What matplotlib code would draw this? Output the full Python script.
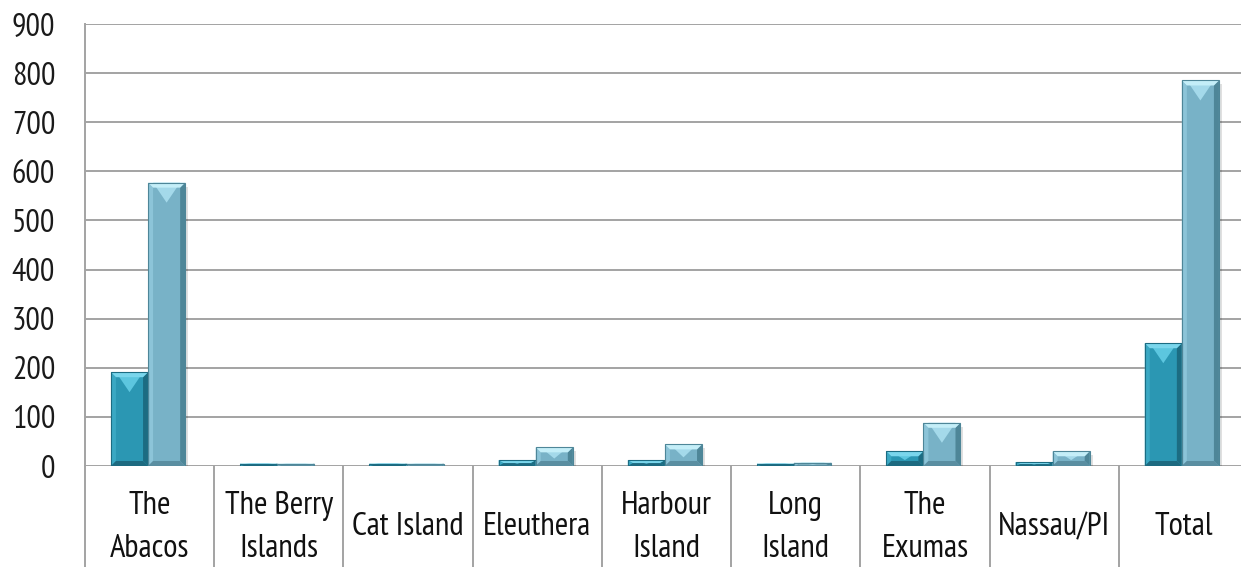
import matplotlib
matplotlib.use("Agg")
import matplotlib.pyplot as plt
from matplotlib.patches import Polygon, Rectangle
import matplotlib.transforms as mtransforms

plt.rcParams['font.family'] = ['PT Sans Narrow', 'Fira Sans Condensed', 'DejaVu Sans']

categories = ["The\nAbacos", "The Berry\nIslands", "Cat Island", "Eleuthera",
              "Harbour\nIsland", "Long\nIsland", "The\nExumas", "Nassau/PI", "Total"]
series_a = [191, 5, 5, 12, 12, 5, 30, 8, 250]
series_b = [577, 5, 5, 38, 44, 7, 88, 30, 785]
yticks = [0, 100, 200, 300, 400, 500, 600, 700, 800, 900]

W, H = 1241, 567
fig = plt.figure(figsize=(W / 100, H / 100), dpi=100)
left_px, right_px, top_px, base_px = 85, 1248, 24, 466
ax = fig.add_axes([left_px / W, (H - base_px) / H,
                   (right_px - left_px) / W, (base_px - top_px) / H])

n = len(categories)
ax.set_xlim(0, n)
ax.set_ylim(0, 900)

grid_col = '#a3a3a3'
for v in yticks:
    ax.axhline(v, color=grid_col, lw=1.4, zorder=1)

for s in ['top', 'right', 'bottom']:
    ax.spines[s].set_visible(False)
ax.spines['left'].set_color(grid_col)
ax.spines['left'].set_linewidth(1.4)

ax.set_yticks(yticks)
ax.set_yticklabels([str(v) for v in yticks], fontsize=23, color='#1a1a1a')
ax.tick_params(axis='y', length=0, pad=21.5)
ax.set_xticks([])

# category separators running below the axis
trans = mtransforms.blended_transform_factory(ax.transData, ax.transAxes)
for i in range(n + 1):
    ax.plot([i, i], [0, -0.3], color=grid_col, lw=1.4, transform=trans,
            clip_on=False, zorder=1)

for i, lab in enumerate(categories):
    ax.text(i + 0.5, -0.139, lab, transform=trans, ha='center', va='center',
            fontsize=23.5, linespacing=1.55, color='#111111')

# pixel -> data scale factors for the bevel details
px_x = n / (right_px - left_px)
px_y = 900 / (base_px - top_px)

styles = [
    dict(face='#2b97b3', top='#5cc6df', edge='#7ad6ec', left='#3aa8c3',
         right='#1c6c82', bottom='#1d6a80'),
    dict(face='#78b2c7', top='#a4d9ea', edge='#c4eef8', left='#8cc4d8',
         right='#4e8698', bottom='#5a8ea1'),
]

bw = 0.287
offsets = [-bw / 2 - 0.012, bw / 2 - 0.012]


def bevel_bar(x0, w, h, st):
    x1 = x0 + w
    xc = (x0 + x1) / 2
    # soft drop shadow
    ax.add_patch(Rectangle((x0 + 2 * px_x, -6 * px_y), w + 1 * px_x, h + 2 * px_y,
                           color='#000000', alpha=0.12, lw=0, zorder=2))
    ax.add_patch(Rectangle((x0, 0), w, h, color=st['face'], lw=0, zorder=3))
    ex = min(5 * px_x, w / 2)
    ev = min(5 * px_y, h / 2)
    # side edges
    ax.add_patch(Polygon([(x0, 0), (x0 + ex, ev), (x0 + ex, h - ev), (x0, h)],
                         color=st['left'], lw=0, zorder=4))
    ax.add_patch(Polygon([(x1, 0), (x1 - ex, ev), (x1 - ex, h - ev), (x1, h)],
                         color=st['right'], lw=0, zorder=4))
    # bottom edge
    ax.add_patch(Polygon([(x0, 0), (x1, 0), (x1 - ex, ev), (x0 + ex, ev)],
                         color=st['bottom'], lw=0, zorder=4))
    # top chevron highlight
    tv = min(20 * px_y, h * 0.6)
    ax.add_patch(Polygon([(x0 + ex, h), (x1 - ex, h), (xc, h - tv)],
                         color=st['top'], lw=0, zorder=4))
    ax.add_patch(Polygon([(x0, h), (x1, h), (x1 - ex, h - ev), (x0 + ex, h - ev)],
                         color=st['edge'], lw=0, zorder=5))
    ax.add_patch(Rectangle((x0, 0), w, h, fill=False, ec=st['right'], lw=0.8,
                           zorder=6))


for i in range(n):
    for vals, off, st in zip([series_a, series_b], offsets, styles):
        bevel_bar(i + 0.5 + off - bw / 2, bw, vals[i], st)

fig.savefig('out.png', dpi=100)
